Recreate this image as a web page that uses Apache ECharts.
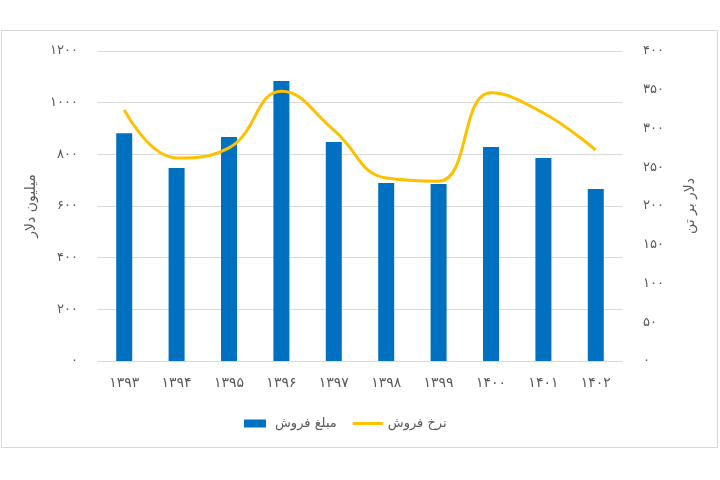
<!DOCTYPE html>
<html>
<head>
<meta charset="utf-8">
<script src="https://cdn.jsdelivr.net/npm/echarts@6/dist/echarts.min.js"></script>
<style>
html,body{margin:0;padding:0;background:#fff;}
#frame{position:absolute;left:1px;top:30px;width:717px;height:418px;border:1px solid #d9d9d9;box-sizing:border-box;}
#chart{position:absolute;left:0;top:0;width:720px;height:480px;}
</style>
</head>
<body>
<div id="frame"></div>
<div id="chart"></div>
<script>
const categories = ['۱۳۹۳','۱۳۹۴','۱۳۹۵','۱۳۹۶','۱۳۹۷','۱۳۹۸','۱۳۹۹','۱۴۰۰','۱۴۰۱','۱۴۰۲'];
const salesAmount = [882, 747, 867, 1084, 848, 689, 685, 828, 786, 666];
const salesRate = [324, 262, 275, 348, 298, 236, 232, 346, 320, 272];
const barName = 'مبلغ فروش';
const lineName = 'نرخ فروش';
const leftAxisName = 'میلیون دلار';
const rightAxisName = 'دلار بر تن';

const faDigits = '۰۱۲۳۴۵۶۷۸۹';
const toFa = v => String(v).replace(/[0-9]/g, d => faDigits[+d]);
const FONT = 'DejaVu Sans';
const TXT = '#595959';

const chart = echarts.init(document.getElementById('chart'));
chart.setOption({
  animation: false,
  textStyle: {fontFamily: FONT},
  grid: {left: 98, right: 98, top: 51, bottom: 119},
  legend: {
    bottom: 45, left: 239, itemGap: 16,
    itemWidth: 30, itemHeight: 8,
    textStyle: {color: TXT, fontSize: 13, fontFamily: FONT},
    data: [
      {name: barName, icon: 'path://M0,0 L22,0 L22,8 L0,8 Z', itemStyle: {color: '#0070C0'}},
      {name: lineName, icon: 'path://M0,0 L30,0 L30,3 L0,3 Z', itemStyle: {color: '#FFC000'}}
    ]
  },
  xAxis: {
    type: 'category', data: categories,
    axisLine: {lineStyle: {color: '#d9d9d9'}},
    axisTick: {show: false},
    axisLabel: {color: TXT, fontSize: 14, margin: 15, fontFamily: FONT}
  },
  yAxis: [
    {
      type: 'value', min: 0, max: 1200, interval: 200,
      name: leftAxisName, nameLocation: 'middle', nameGap: 60, nameRotate: 90,
      nameTextStyle: {color: TXT, fontSize: 14, fontFamily: FONT},
      axisLine: {show: false}, axisTick: {show: false},
      axisLabel: {color: TXT, fontSize: 13, margin: 20, formatter: toFa, fontFamily: FONT},
      splitLine: {lineStyle: {color: '#d9d9d9'}}
    },
    {
      type: 'value', min: 0, max: 400, interval: 50,
      name: rightAxisName, nameLocation: 'middle', nameGap: 61, nameRotate: 90,
      nameTextStyle: {color: TXT, fontSize: 14, fontFamily: FONT},
      axisLine: {show: false}, axisTick: {show: false},
      axisLabel: {color: TXT, fontSize: 13, margin: 21, formatter: toFa, fontFamily: FONT},
      splitLine: {show: false}
    }
  ],
  series: [
    {
      name: barName, type: 'bar', data: salesAmount, yAxisIndex: 0,
      barWidth: 16, itemStyle: {color: '#0070C0'}
    },
    {
      name: lineName, type: 'line', data: salesRate, yAxisIndex: 1,
      smooth: 0.45, symbol: 'none',
      lineStyle: {color: '#FFC000', width: 3},
      itemStyle: {color: '#FFC000'}
    }
  ]
});
</script>
</body>
</html>
